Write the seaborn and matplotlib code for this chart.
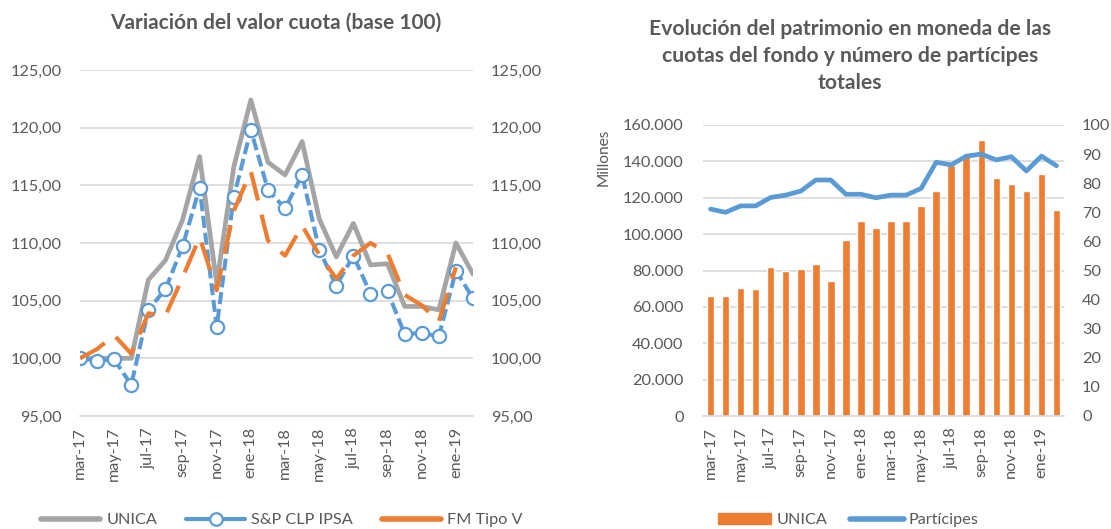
import matplotlib
matplotlib.use("Agg")
import matplotlib.pyplot as plt
import matplotlib.ticker as mticker
from matplotlib.lines import Line2D
from matplotlib.patches import Patch
import numpy as np
import pandas as pd
import seaborn as sns

# data
months = ["mar-17", "abr-17", "may-17", "jun-17", "jul-17", "ago-17", "sep-17", "oct-17",
          "nov-17", "dic-17", "ene-18", "feb-18", "mar-18", "abr-18", "may-18", "jun-18",
          "jul-18", "ago-18", "sep-18", "oct-18", "nov-18", "dic-18", "ene-19", "feb-19"]
unica = [100.0, 100.0, 100.0, 100.0, 106.8, 108.5, 112.0, 117.5, 106.5, 116.6, 122.4, 117.0,
         115.9, 118.8, 112.1, 108.8, 111.7, 108.1, 108.2, 104.5, 104.5, 104.2, 110.0, 107.3]
ipsa = [100.0, 99.8, 99.9, 97.7, 104.2, 106.0, 109.7, 114.8, 102.7, 114.0, 119.8, 114.6,
        113.0, 115.9, 109.4, 106.3, 108.9, 105.6, 105.8, 102.1, 102.2, 101.9, 107.6, 105.2]
tipo_v = [100.0, 100.8, 102.0, 100.4, 103.9, 103.7, 107.0, 110.5, 105.9, 112.8, 116.2, 110.2,
          108.9, 111.5, 109.0, 106.9, 108.9, 110.0, 109.1, 105.5, 104.6, 103.2, 107.9, np.nan]
patrimonio = [66000, 66000, 70300, 69900, 82000, 79900, 80600, 83700, 74200, 96800, 107300, 103300,
              107000, 107300, 115400, 123600, 138000, 144300, 151700, 130600, 127300, 123600, 133000, 113200]
participes = [71.1, 70.0, 72.2, 72.2, 75.1, 75.9, 77.3, 81.1, 81.1, 76.2, 76.2, 75.0,
              75.9, 75.9, 78.2, 87.2, 86.3, 89.3, 90.0, 88.0, 89.1, 84.2, 89.3, 86.0]

grey = "#A5A5A5"
blue = "#5B9BD5"
orange = "#ED7D31"
txt = "#595959"
gridc = "#D9D9D9"
tick_fs = 11.7

sns.set_style("white")
plt.rcParams["font.family"] = ["Lato", "DejaVu Sans"]
plt.rcParams["text.color"] = txt

df = pd.DataFrame({"mes": months, "idx": np.arange(len(months)), "unica": unica, "ipsa": ipsa,
                   "tipo_v": tipo_v, "patrimonio": patrimonio, "participes": participes})

fig = plt.figure(figsize=(11.11, 5.29), dpi=100)

# left chart
ax = fig.add_axes([80 / 1111, 1 - 416 / 529, 393 / 1111, 346 / 529])
sns.lineplot(data=df, x="idx", y="unica", ax=ax, color=grey, linewidth=3.4)
sns.lineplot(data=df, x="idx", y="ipsa", ax=ax, color=blue, linewidth=2.9,
             linestyle=(0, (3, 1.2)), marker="o", markersize=9.5,
             markerfacecolor="white", markeredgecolor=blue, markeredgewidth=1.6)
sns.lineplot(data=df, x="idx", y="tipo_v", ax=ax, color=orange, linewidth=3.0,
             linestyle=(0, (7, 3.5)))
ax.set_xlim(0, 23)
ax.set_ylim(95, 125)
ax.set_yticks(np.arange(95, 126, 5))
fmt_dec = mticker.FuncFormatter(lambda v, p: f"{v:.2f}".replace(".", ","))
ax.yaxis.set_major_formatter(fmt_dec)
ax.tick_params(axis="y", length=0, labelsize=tick_fs, labelcolor=txt, pad=13,
               labelright=True, right=False)
ax.set_xticks(np.arange(0, 24, 2))
ax.set_xticklabels(months[::2], rotation=90)
ax.tick_params(axis="x", length=5, width=1, color=gridc, labelsize=tick_fs, labelcolor=txt, pad=3)
ax.grid(axis="y", color=gridc, linewidth=1.2)
for s in ["top", "left", "right"]:
    ax.spines[s].set_visible(False)
ax.spines["bottom"].set_color(gridc)
ax.spines["bottom"].set_linewidth(1.2)
ax.set_xlabel("")
ax.set_ylabel("")
fig.text(276 / 1111, 1 - 23 / 529, "Variación del valor cuota (base 100)", ha="center",
         va="center", fontsize=15, fontweight="bold", color=txt)

h1 = [Line2D([], [], color=grey, linewidth=4, solid_capstyle="round"),
      Line2D([], [], color=blue, linewidth=3, marker="o", markersize=9,
             markerfacecolor="white", markeredgecolor=blue, markeredgewidth=1.6),
      Line2D([], [], color=orange, linewidth=4, solid_capstyle="round")]
fig.legend(h1, ["UNICA", "S&P CLP IPSA", "FM Tipo V"], loc="center",
           bbox_to_anchor=(282 / 1111, 1 - 520 / 529), ncol=3, frameon=False,
           fontsize=tick_fs, handlelength=3.6, columnspacing=1.8, handletextpad=0.4,
           labelcolor=txt)

# right chart
ax2 = fig.add_axes([703 / 1111, 1 - 416 / 529, 361 / 1111, 291 / 529])
sns.barplot(data=df, x="mes", y="patrimonio", ax=ax2, color=orange, saturation=1,
            width=0.5)
ax2.set_xlim(-0.5, 23.5)
ax2.set_ylim(0, 160000)
ax2.set_yticks(np.arange(0, 160001, 20000))
fmt_thou = mticker.FuncFormatter(lambda v, p: f"{int(v):,}".replace(",", "."))
ax2.yaxis.set_major_formatter(fmt_thou)
ax2.tick_params(axis="y", length=0, labelsize=tick_fs, labelcolor=txt, pad=14)
ax2.set_xticks(np.arange(0, 24, 2))
ax2.set_xticklabels(months[::2], rotation=90)
ax2.set_xticks(np.arange(-0.5, 24, 1), minor=True)
ax2.tick_params(axis="x", which="major", length=0, labelsize=tick_fs, labelcolor=txt, pad=8)
ax2.tick_params(axis="x", which="minor", length=5, width=1, color=gridc)
ax2.grid(axis="y", color=gridc, linewidth=1.2)
ax2.set_axisbelow(True)
for s in ["top", "left", "right"]:
    ax2.spines[s].set_visible(False)
ax2.spines["bottom"].set_color(gridc)
ax2.spines["bottom"].set_linewidth(1.2)
ax2.set_xlabel("")
ax2.set_ylabel("Millones", fontsize=11.2, color=txt)
ax2.yaxis.set_label_coords(-0.255, 0.89)

ax3 = ax2.twinx()
sns.lineplot(data=df, x="idx", y="participes", ax=ax3, color=blue, linewidth=3.4)
ax3.set_ylim(0, 100)
ax3.set_yticks(np.arange(0, 101, 10))
ax3.tick_params(axis="y", length=0, labelsize=tick_fs, labelcolor=txt, pad=13)
for s in ["top", "left", "right", "bottom"]:
    ax3.spines[s].set_visible(False)
ax3.set_ylabel("")
ax3.set_xlabel("")
ax3.set_xlim(-0.5, 23.5)

fig.text(850 / 1111, 1 - 56 / 529,
         "Evolución del patrimonio en moneda de las\ncuotas del fondo y número de partícipes\ntotales",
         ha="center", va="center", fontsize=15.2, fontweight="bold", color=txt, linespacing=1.42)

h2 = [Patch(color=orange), Line2D([], [], color=blue, linewidth=4, solid_capstyle="round")]
fig.legend(h2, ["UNICA", "Partícipes"], loc="center",
           bbox_to_anchor=(848 / 1111, 1 - 520 / 529), ncol=2, frameon=False,
           fontsize=tick_fs, handlelength=3.3, columnspacing=1.4, handletextpad=0.3,
           labelcolor=txt)

fig.savefig("out.png", dpi=100)
